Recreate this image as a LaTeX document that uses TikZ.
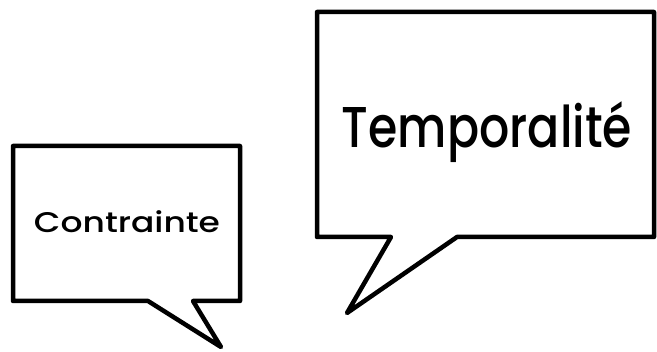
\documentclass[tikz,border=0pt]{standalone}
\usepackage{fontspec}
\setmainfont{Poppins}
\newfontfamily\lblfont{Poppins Medium}
\begin{document}
\begin{tikzpicture}[x=1pt,y=-1pt,
  bubble/.style={draw=black,line width=4.5pt,line join=round,line cap=round,fill=white},
  lbl/.style={inner sep=0pt,anchor=base,font=\lblfont}]
\useasboundingbox (0,0) rectangle (657,352);
% left bubble
\draw[bubble] (13,146) -- (240,146) -- (240,301) -- (193,301) -- (221,347) -- (148,301) -- (13,301) -- cycle;
\node[lbl] (c) at (127,233) {\resizebox{186pt}{20pt}{\smash{Contrainte}\vphantom{C}}};
% right bubble
\draw[bubble] (317,12) -- (654,12) -- (654,237) -- (457,237) -- (347,313) -- (391,237) -- (317,237) -- cycle;
\node[lbl] (t) at (487,148) {\resizebox{290pt}{40pt}{\smash{Temporalité}\vphantom{T}}};
\end{tikzpicture}
\end{document}
